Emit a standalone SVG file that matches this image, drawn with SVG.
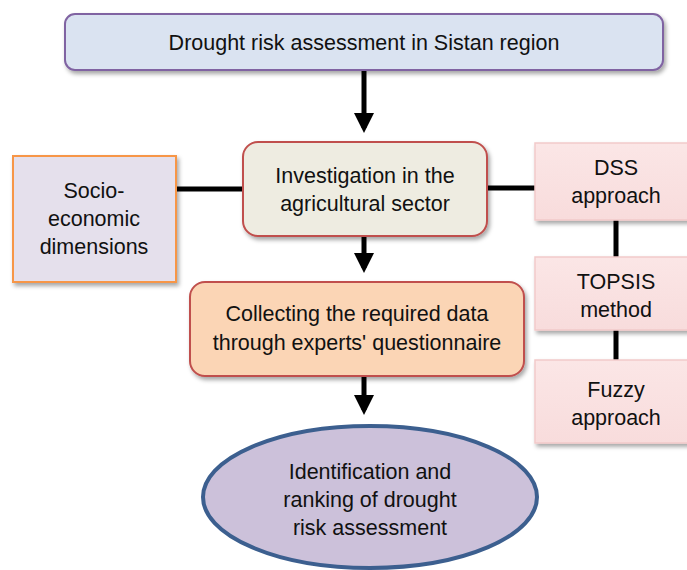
<svg xmlns="http://www.w3.org/2000/svg" width="687" height="570" viewBox="0 0 687 570">
<defs>
<filter id="sh" x="-10%" y="-10%" width="130%" height="140%">
<feDropShadow dx="2" dy="3" stdDeviation="2" flood-color="#000" flood-opacity="0.35"/>
</filter>
<linearGradient id="pink" x1="0" y1="0" x2="0" y2="1">
<stop offset="0" stop-color="#fbe6e6"/>
<stop offset="1" stop-color="#f8dcdc"/>
</linearGradient>
<marker id="ah" markerWidth="4" markerHeight="4" refX="3" refY="2" orient="auto" markerUnits="strokeWidth">
<path d="M0,0 L4,2 L0,4 Z" fill="#000"/>
</marker>
<style>
text{font-family:"Liberation Sans",Arial,sans-serif;font-size:21.5px;fill:#111;text-anchor:middle}
.ln{stroke:#000;stroke-width:5;fill:none}
.pk{fill:url(#pink);stroke:#f2caca;stroke-width:1.5;filter:url(#sh)}
</style>
</defs>
<rect width="687" height="570" fill="#fff"/>
<g id="connectors">
<line class="ln" x1="364" y1="70" x2="364" y2="128" marker-end="url(#ah)"/>
<line class="ln" x1="176" y1="189" x2="243" y2="189"/>
<line class="ln" x1="487" y1="188" x2="535" y2="188"/>
<line class="ln" x1="616" y1="220" x2="616" y2="257"/>
<line class="ln" x1="616" y1="330" x2="616" y2="361"/>
<line class="ln" x1="364" y1="236" x2="364" y2="268" marker-end="url(#ah)"/>
<line class="ln" x1="364" y1="376" x2="364" y2="410" marker-end="url(#ah)"/>
</g>
<g id="top">
<rect x="65" y="14" width="598" height="56" rx="10" fill="#dae3f1" stroke="#8064a2" stroke-width="2" filter="url(#sh)"/>
<text x="364" y="50">Drought risk assessment in Sistan region</text>
</g>
<g id="socio">
<rect x="13" y="156" width="163" height="126" fill="#e5e0ec" stroke="#f79646" stroke-width="2" filter="url(#sh)"/>
<text x="94" y="198">Socio-</text>
<text x="94" y="226">economic</text>
<text x="94" y="254">dimensions</text>
</g>
<g id="investigation">
<rect x="243" y="142" width="244" height="94" rx="15" fill="#eeece1" stroke="#c0504d" stroke-width="2" filter="url(#sh)"/>
<text x="365" y="183">Investigation in the</text>
<text x="365" y="211">agricultural sector</text>
</g>
<g id="dss">
<rect class="pk" x="535" y="143" width="160" height="77"/>
<text x="616" y="175">DSS</text>
<text x="616" y="203">approach</text>
</g>
<g id="topsis">
<rect class="pk" x="535" y="257" width="160" height="73"/>
<text x="616" y="289">TOPSIS</text>
<text x="616" y="317">method</text>
</g>
<g id="fuzzy">
<rect class="pk" x="535" y="360" width="160" height="83"/>
<text x="616" y="397">Fuzzy</text>
<text x="616" y="425">approach</text>
</g>
<g id="collecting">
<rect x="190" y="282" width="334" height="94" rx="15" fill="#fbd5b5" stroke="#c0504d" stroke-width="2" filter="url(#sh)"/>
<text x="357" y="321">Collecting the required data</text>
<text x="357" y="350">through experts' questionnaire</text>
</g>
<g id="identification">
<ellipse cx="370" cy="497" rx="167" ry="71" fill="#ccc1da" stroke="#3c5f8f" stroke-width="4"/>
<text x="370" y="479">Identification and</text>
<text x="370" y="507">ranking of drought</text>
<text x="370" y="535">risk assessment</text>
</g>
</svg>
